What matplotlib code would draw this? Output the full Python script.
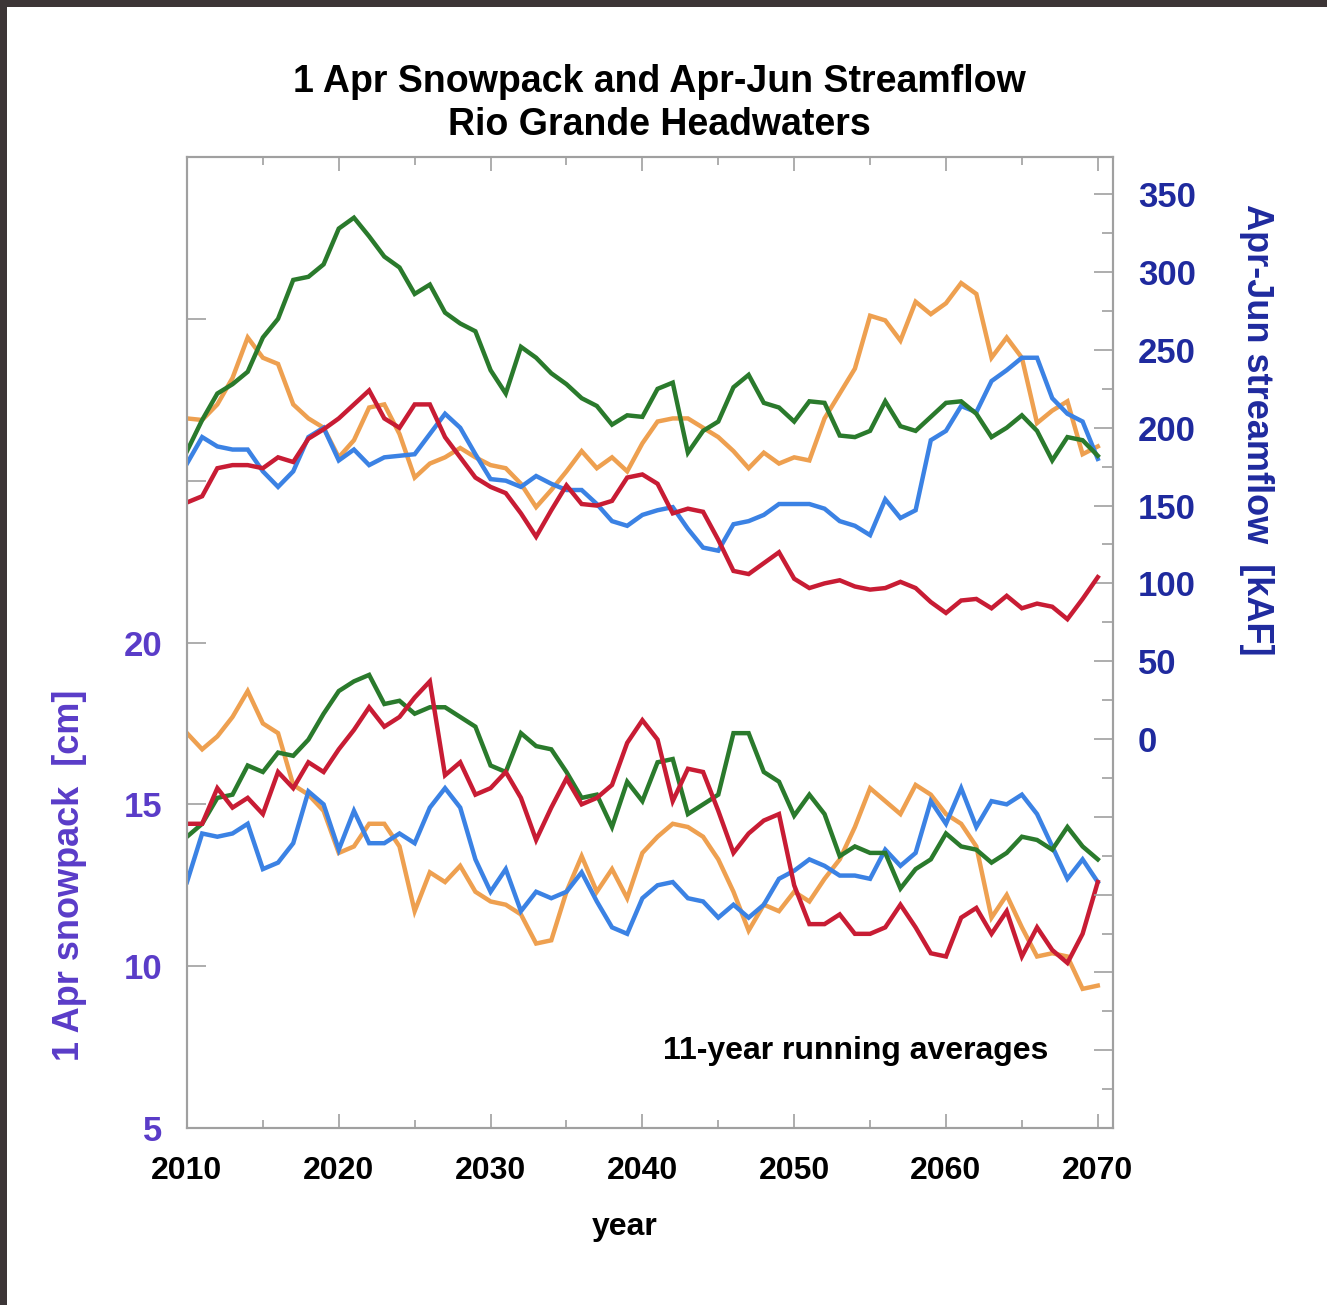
import matplotlib
matplotlib.use("Agg")
import matplotlib.pyplot as plt
from matplotlib.patches import Rectangle
from matplotlib.ticker import MultipleLocator, FixedLocator

plt.rcParams['font.family'] = ['Liberation Sans', 'DejaVu Sans']
plt.rcParams['font.weight'] = 'bold'

years = list(range(2010, 2071))

# Apr-Jun streamflow [kAF], 11-year running averages
flow_green = [185, 205, 222, 228, 236, 258, 270, 295, 297, 305, 328, 335, 323, 310, 303, 286, 292, 274, 267, 262,
              237, 222, 252, 245, 235, 228, 219, 214, 202, 208, 207, 225, 229, 184, 198, 204, 226, 234, 216, 213,
              204, 217, 216, 195, 194, 198, 217, 201, 198, 207, 216, 217, 209, 194, 200, 208, 198, 179, 194, 192,
              182]
flow_orange = [206, 205, 215, 232, 258, 245, 241, 215, 206, 200, 181, 192, 213, 215, 196, 168, 177, 181, 187, 181,
               176, 174, 164, 149, 160, 172, 185, 174, 181, 172, 190, 204, 206, 206, 200, 194, 185, 174, 184, 177,
               181, 179, 206, 222, 238, 272, 269, 256, 281, 273, 280, 293, 286, 245, 258, 245, 203, 211, 217, 183,
               188]
flow_blue = [177, 194, 188, 186, 186, 172, 162, 172, 194, 200, 179, 186, 176, 181, 182, 183, 196, 209, 200, 183,
             167, 166, 162, 169, 164, 160, 160, 151, 140, 137, 144, 147, 149, 135, 123, 121, 138, 140, 144, 151,
             151, 151, 148, 140, 137, 131, 154, 142, 147, 192, 198, 214, 210, 230, 237, 245, 245, 219, 209, 204,
             180]
flow_red = [152, 156, 174, 176, 176, 174, 181, 178, 193, 199, 206, 215, 224, 206, 200, 215, 215, 194, 181, 168,
            162, 158, 145, 130, 147, 163, 151, 150, 153, 168, 170, 164, 145, 148, 146, 128, 108, 106, 113, 120,
            103, 97, 100, 102, 98, 96, 97, 101, 97, 88, 81, 89, 90, 84, 92, 84, 87, 85, 77, 90,
            104]

# 1 Apr snowpack [cm], 11-year running averages
snow_green = [14.0, 14.4, 15.2, 15.3, 16.2, 16.0, 16.6, 16.5, 17.0, 17.8, 18.5, 18.8, 19.0, 18.1, 18.2, 17.8, 18.0,
              18.0, 17.7, 17.4, 16.2, 16.0, 17.2, 16.8, 16.7, 16.0, 15.2, 15.3, 14.3, 15.7, 15.1, 16.3, 16.4, 14.7,
              15.0, 15.3, 17.2, 17.2, 16.0, 15.7, 14.65, 15.3, 14.7, 13.4, 13.7, 13.5, 13.5, 12.4, 13.0, 13.3, 14.1,
              13.7, 13.6, 13.2, 13.5, 14.0, 13.9, 13.6, 14.3, 13.7, 13.3]
snow_orange = [17.2, 16.7, 17.1, 17.7, 18.5, 17.5, 17.2, 15.6, 15.3, 14.8, 13.5, 13.7, 14.4, 14.4, 13.7, 11.7, 12.9,
               12.6, 13.1, 12.3, 12.0, 11.9, 11.6, 10.7, 10.8, 12.3, 13.4, 12.3, 13.0, 12.1, 13.5, 14.0, 14.4, 14.3,
               14.0, 13.3, 12.3, 11.1, 11.9, 11.7, 12.3, 12.0, 12.7, 13.3, 14.3, 15.5, 15.1, 14.7, 15.6, 15.3, 14.7,
               14.4, 13.7, 11.5, 12.2, 11.2, 10.3, 10.4, 10.3, 9.3, 9.4]
snow_blue = [12.6, 14.1, 14.0, 14.1, 14.4, 13.0, 13.2, 13.8, 15.4, 15.0, 13.6, 14.8, 13.8, 13.8, 14.1, 13.8, 14.9,
             15.5, 14.9, 13.3, 12.3, 13.0, 11.7, 12.3, 12.1, 12.3, 12.9, 12.0, 11.2, 11.0, 12.1, 12.5, 12.6, 12.1,
             12.0, 11.5, 11.9, 11.5, 11.9, 12.7, 12.95, 13.3, 13.1, 12.8, 12.8, 12.7, 13.6, 13.1, 13.5, 15.1, 14.4,
             15.5, 14.3, 15.1, 15.0, 15.3, 14.7, 13.7, 12.7, 13.3, 12.6]
snow_red = [14.4, 14.4, 15.5, 14.9, 15.2, 14.7, 16.0, 15.5, 16.3, 16.0, 16.7, 17.3, 18.0, 17.4, 17.7, 18.3, 18.8,
            15.9, 16.3, 15.3, 15.5, 16.0, 15.2, 13.9, 14.9, 15.8, 15.0, 15.2, 15.6, 16.9, 17.6, 17.0, 15.1, 16.1,
            16.0, 14.8, 13.5, 14.1, 14.5, 14.7, 12.5, 11.3, 11.3, 11.6, 11.0, 11.0, 11.2, 11.9, 11.2, 10.4, 10.3,
            11.5, 11.8, 11.0, 11.7, 10.3, 11.2, 10.5, 10.1, 11.0, 12.6]

c_green = '#2a7a2c'
c_orange = '#eea050'
c_blue = '#3b82e4'
c_red = '#c81c34'
c_snow = '#5a3cc8'
c_flow = '#1f2a9e'
c_spine = '#a0a0a0'

fig = plt.figure(figsize=(13.27, 13.05), dpi=100, facecolor='#3c3536')
# white sheet with a thin dark edge at top and left
fig.patches.append(Rectangle((0.0055, 0), 1, 0.9945, transform=fig.transFigure,
                             facecolor='white', edgecolor='none', zorder=-10))

ax = fig.add_axes([0.1409, 0.1356, 0.6978, 0.7441])
ax2 = ax.twinx()

lw = 3.2
for vals, c in [(snow_orange, c_orange), (snow_blue, c_blue), (snow_green, c_green), (snow_red, c_red)]:
    ax.plot(years, vals, color=c, lw=lw, solid_joinstyle='miter')
for vals, c in [(flow_orange, c_orange), (flow_blue, c_blue), (flow_green, c_green), (flow_red, c_red)]:
    ax2.plot(years, vals, color=c, lw=lw, solid_joinstyle='miter')

ax.set_xlim(2010, 2071)
ax.set_ylim(5, 35)
ax2.set_ylim(-250, 374)

# left axis: labels only on the lower half
ax.yaxis.set_major_locator(FixedLocator([5, 10, 15, 20, 25, 30]))
ax.set_yticklabels(['5', '10', '15', '20', '', ''])
ax.xaxis.set_major_locator(MultipleLocator(10))
ax.xaxis.set_minor_locator(MultipleLocator(5))
ax2.yaxis.set_major_locator(MultipleLocator(50))
ax2.yaxis.set_minor_locator(MultipleLocator(25))
ax2.set_yticklabels([str(int(v)) if v >= 0 else '' for v in ax2.get_yticks()])

for a in (ax, ax2):
    for s in a.spines.values():
        s.set_color(c_spine)
        s.set_linewidth(1.5)

ax.tick_params(axis='x', which='both', direction='in', top=True, bottom=True, color=c_spine,
               length=10, width=1.2, labelsize=23, pad=20, labelcolor='black')
ax.tick_params(axis='x', which='minor', length=6)
ax.tick_params(axis='y', direction='in', left=True, right=False, color=c_spine, length=14, width=1.2,
               labelsize=25, labelcolor=c_snow, pad=18)
ax2.tick_params(axis='y', which='both', direction='in', color=c_spine, width=1.2,
                labelsize=25, labelcolor=c_flow, pad=18)
ax2.tick_params(axis='y', which='major', length=14)
ax2.tick_params(axis='y', which='minor', length=8)

# axis titles
fig.text(0.471, 0.060, 'year', ha='center', va='center', fontsize=23, fontweight='bold')
ax.text(-0.1265, 0.26, '1 Apr snowpack  [cm]', transform=ax.transAxes, rotation=90,
        ha='center', va='center', fontsize=26, fontweight='bold', color=c_snow)
ax.text(1.155, 0.719, 'Apr-Jun streamflow  [kAF]', transform=ax.transAxes, rotation=-90,
        ha='center', va='center', fontsize=26, fontweight='bold', color=c_flow)

ax.text(0.93, 0.079, '11-year running averages', transform=ax.transAxes, ha='right', va='center',
        fontsize=23)
fig.text(0.497, 0.937, '1 Apr Snowpack and Apr-Jun Streamflow', ha='center', va='center', fontsize=27)
fig.text(0.497, 0.904, 'Rio Grande Headwaters', ha='center', va='center', fontsize=27)

fig.savefig('out.png', dpi=100, facecolor=fig.get_facecolor())
